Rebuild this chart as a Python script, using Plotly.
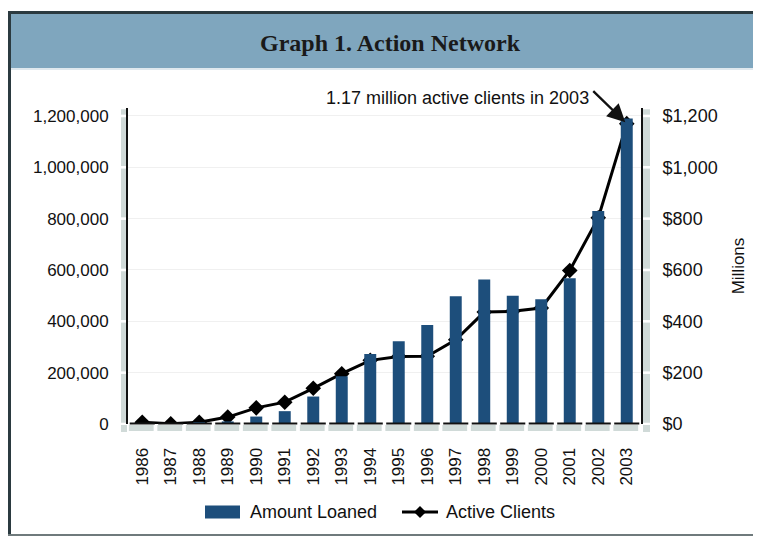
import plotly.graph_objects as go

# ---------------- data ----------------
years = ["1986", "1987", "1988", "1989", "1990", "1991", "1992", "1993", "1994",
         "1995", "1996", "1997", "1998", "1999", "2000", "2001", "2002", "2003"]
amount_loaned_musd = [1, 2, 4, 10, 29, 50, 107, 186, 273, 322, 386, 498, 563, 500, 486, 568, 830, 1190]
active_clients = [7000, 1000, 7000, 27000, 63000, 85000, 139000, 196000, 248000, 263000,
                  264000, 328000, 436000, 439000, 452000, 598000, 803000, 1170000]
left_ticks = [0, 200000, 400000, 600000, 800000, 1000000, 1200000]
left_labels = ["0", "200,000", "400,000", "600,000", "800,000", "1,000,000", "1,200,000"]
right_ticks = [0, 200, 400, 600, 800, 1000, 1200]
right_labels = ["$0", "$200", "$400", "$600", "$800", "$1,000", "$1,200"]
series_names = ["Amount Loaned", "Active Clients"]

# ---------------- geometry helpers (screen pixel -> paper) ----------------
W, H = 761, 538
OFF = 8  # page body margin offset of the figure
PL, PR, PT, PB = 128, 641, 108, 424  # plot area in screen pixels
PW, PH = PR - PL, PB - PT


def px(x):
    return (x - PL) / PW


def py(y):
    return (PB - y) / PH


YMAX = 1231000
Y2MAX = 1231
WALL = "#d0dad8"
BAR = "#1d4e7b"
FONT = "Liberation Sans, Arial, sans-serif"
TXT = "#111111"

fig = go.Figure()
fig.add_trace(go.Bar(
    x=years, y=amount_loaned_musd, name=series_names[0], yaxis="y2",
    marker=dict(color=BAR, line=dict(width=0)), width=0.42, showlegend=False,
))
fig.add_trace(go.Scatter(
    x=years, y=active_clients, name=series_names[1], yaxis="y",
    mode="lines+markers", line=dict(color="black", width=3),
    marker=dict(symbol="diamond", size=12, color="black"), showlegend=False,
))

shapes = []
# frame / banner
SR = W + OFF + 2
shapes.append(dict(type="rect", xref="paper", yref="paper", layer="below",
                   x0=px(10), x1=px(SR), y0=py(14), y1=py(68),
                   fillcolor="#7fa6be", line=dict(width=0)))
shapes.append(dict(type="rect", xref="paper", yref="paper", layer="below",
                   x0=px(10), x1=px(SR), y0=py(68), y1=py(70),
                   fillcolor="#dfe8ee", line=dict(width=0)))
shapes.append(dict(type="rect", xref="paper", yref="paper", layer="below",
                   x0=px(8), x1=px(SR), y0=py(11), y1=py(14),
                   fillcolor="#2b3a40", line=dict(width=0)))
shapes.append(dict(type="rect", xref="paper", yref="paper", layer="below",
                   x0=px(8), x1=px(11), y0=py(11), y1=py(536),
                   fillcolor="#2b3a40", line=dict(width=0)))
shapes.append(dict(type="rect", xref="paper", yref="paper", layer="below",
                   x0=px(8), x1=px(SR), y0=py(534), y1=py(536),
                   fillcolor="#6f7a7c", line=dict(width=0)))

# walls (left and right), segmented at ticks
gap = 5000
bounds = left_ticks + [YMAX]
for i in range(len(bounds) - 1):
    lo = bounds[i] + gap
    hi = bounds[i + 1] - gap
    for (xa, xb) in [(121, 127), (643, 650)]:
        shapes.append(dict(type="rect", xref="paper", yref="y", layer="below",
                           x0=px(xa), x1=px(xb), y0=lo, y1=hi,
                           fillcolor=WALL, line=dict(width=0)))
for (xa, xb) in [(121, 127), (643, 650)]:
    shapes.append(dict(type="rect", xref="paper", yref="paper", layer="below",
                       x0=px(xa), x1=px(xb), y0=py(432), y1=py(425),
                       fillcolor=WALL, line=dict(width=0)))

# floor + baseline segments per category slot
n = len(years)
slot = 1.0 / n
for i in range(n):
    c = (i + 0.5) * slot
    shapes.append(dict(type="rect", xref="paper", yref="paper", layer="below",
                       x0=c - 0.47 * slot, x1=c + 0.40 * slot, y0=py(431), y1=py(425),
                       fillcolor=WALL, line=dict(width=0)))
    shapes.append(dict(type="line", xref="paper", yref="paper", layer="above",
                       x0=c - 0.44 * slot, x1=c + 0.44 * slot, y0=py(423.5), y1=py(423.5),
                       line=dict(color=TXT, width=2)))

# custom legend
LY = 512
shapes.append(dict(type="rect", xref="paper", yref="paper",
                   x0=px(205), x1=px(240), y0=py(518.5), y1=py(505.5),
                   fillcolor=BAR, line=dict(width=0)))
shapes.append(dict(type="line", xref="paper", yref="paper",
                   x0=px(402), x1=px(438), y0=py(LY), y1=py(LY),
                   line=dict(color="black", width=3)))
d = 6
shapes.append(dict(type="path", xref="paper", yref="paper",
                   path=f"M {px(420 - d)},{py(LY)} L {px(420)},{py(LY - d)} "
                        f"L {px(420 + d)},{py(LY)} L {px(420)},{py(LY + d)} Z",
                   fillcolor="black", line=dict(width=0)))

annotations = [
    dict(text="<b>Graph 1. Action Network</b>", xref="paper", yref="paper",
         x=px(390), y=py(43), xanchor="center", yanchor="middle", showarrow=False,
         font=dict(family="Liberation Serif, Times New Roman, serif", size=24, color="#1a1a1a")),
    dict(text="1.17 million active clients in 2003", xref="paper", yref="paper",
         x=px(591), y=py(98), xanchor="right", yanchor="middle", showarrow=False,
         font=dict(family=FONT, size=18, color=TXT)),
    dict(text=" ", x=n - 1, y=active_clients[-1], xref="x", yref="y",
         ax=-34, ay=-33, axref="pixel", ayref="pixel",
         font=dict(size=1), borderpad=0,
         showarrow=True, arrowhead=2, arrowsize=1.5, arrowwidth=2.4,
         arrowcolor=TXT, standoff=2),
    dict(text=series_names[0], xref="paper", yref="paper",
         x=px(248), y=py(LY), xanchor="left", yanchor="middle", showarrow=False,
         font=dict(family=FONT, size=18, color=TXT)),
    dict(text=series_names[1], xref="paper", yref="paper",
         x=px(444), y=py(LY), xanchor="left", yanchor="middle", showarrow=False,
         font=dict(family=FONT, size=18, color=TXT)),
]

fig.update_layout(
    template="none",
    width=W, height=H,
    margin=dict(l=PL - OFF, r=W + OFF - PR, t=PT - OFF, b=H + OFF - PB, pad=0, autoexpand=False),
    paper_bgcolor="white", plot_bgcolor="white",
    font=dict(family=FONT, size=17, color=TXT),
    showlegend=False,
    xaxis=dict(type="category", categoryorder="array", categoryarray=years,
               range=[-0.5, n - 0.5], automargin=False,
               tickangle=-90, showgrid=False, showline=False,
               zeroline=False, ticks="outside", ticklen=16, tickcolor="rgba(0,0,0,0)",
               tickfont=dict(family=FONT, size=17, color=TXT)),
    yaxis=dict(range=[0, YMAX], tickvals=left_ticks, ticktext=left_labels, automargin=False,
               showline=True, linecolor=TXT, linewidth=2,
               showgrid=True, gridcolor="#f0f0f0", gridwidth=1, zeroline=False,
               ticks="outside", ticklen=14, tickcolor="rgba(0,0,0,0)",
               tickfont=dict(family=FONT, size=17, color=TXT)),
    yaxis2=dict(range=[0, Y2MAX], tickvals=right_ticks, ticktext=right_labels, automargin=False,
                overlaying="y", side="right", anchor="x",
                showline=True, linecolor=TXT, linewidth=2,
                showgrid=False, zeroline=False,
                ticks="outside", ticklen=16, tickcolor="rgba(0,0,0,0)",
                tickfont=dict(family=FONT, size=18, color=TXT),
                title=dict(text="Millions", standoff=15,
                           font=dict(family=FONT, size=17, color=TXT))),
    shapes=shapes,
    annotations=annotations,
)

fig.write_html("out.html")
